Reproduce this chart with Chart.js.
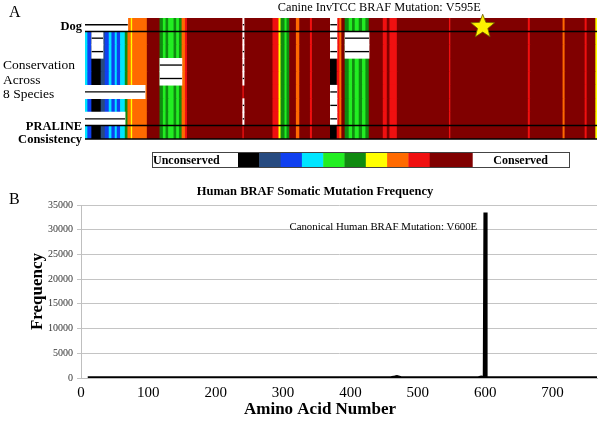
<!DOCTYPE html>
<html><head><meta charset="utf-8">
<script src="https://cdn.jsdelivr.net/npm/chart.js@4"></script>
<style>
html,body{margin:0;padding:0;background:#fff;width:603px;height:426px;overflow:hidden}
#a{position:absolute;left:0;top:0;width:603px;height:176px}
#b{position:absolute;left:0;top:176px;width:603px;height:250px}
</style></head><body>
<div id="a"><canvas id="ca"></canvas></div>
<div id="b"><canvas id="cb"></canvas></div>
<script>
const SERIF = '"Liberation Serif", "Times New Roman", Times, serif';

// ---------- Panel A data ----------
const alignmentRows = ['Dog','Species 2','Species 3','Species 4','Species 5','Species 6','Species 7','Species 8','PRALINE Consistency'];
const alignmentLength = 766;
// PRALINE conservation score colours, 0 (unconserved) .. 10 (conserved)
const scoreColors = ['#000000','#274b80','#1040f0','#00e5ff','#22ee22','#108a10','#ffff00','#ff6a00','#f01010','#800000','#800000'];
// column boundaries (alignment positions) and the score of each column block
const columnBounds = [0,4,10,24,30,36,40,45,48,53,60,64,69,71,93,112,117,121,125,133,137,141,145,150,153,236,238,281,290,293,299,302,306,316,321,337,340,367,377,381,384,389,395,400,404,410,415,420,425,446,452,456,467,545,547,663,666,715,718,748,751,764,766];
const columnScores = [3,2,0,1,2,3,2,3,2,3,5,7,6,7,9,5,4,5,4,5,4,5,7,8,9,8,9,8,6,5,4,5,9,7,9,8,9,0,8,7,9,5,4,5,4,5,4,5,9,8,9,8,9,8,9,8,9,7,9,8,9,6];
// alignment gaps: row, start, end
const gapRows  = ['Dog','Dog','Dog','Species 2','Species 2','Species 2','Species 2','Species 3','Species 3','Species 3','Species 3','Species 4','Species 4','Species 5','Species 5','Species 6','Species 6','Species 7','Species 7','Species 8','Species 8','Species 8'];
const gapStart = [0,236,367,10,236,367,389,10,236,367,389,112,236,112,236,0,367,236,367,0,236,367];
const gapEnd   = [64,238,377,27,238,377,425,27,238,377,425,145,238,145,238,90,377,238,377,60,238,377];
const canineMutationPos = 595;
const canineMutationLabel = 'Canine InvTCC BRAF Mutation: V595E';
const legendLabels = ['Unconserved','Conserved'];

// ---------- Panel B data ----------
const residuePositions = [10, 460, 464, 466, 469, 475, 590, 594, 597, 599, 600, 601, 605, 766];
const mutationCounts   = [2, 3, 120, 160, 260, 5, 10, 150, 60, 20, 33500, 110, 5, 1];
const freqMin = 0, freqMax = 35000, freqStep = 5000;
const aaMin = 0, aaMax = 766, aaStep = 100;
const humanMutationLabel = 'Canonical Human BRAF Mutation: V600E';
const humanMutationPos = 600;

// ---------- build panel A ----------
const colData = [];
alignmentRows.forEach(r => {
  for (let i = 0; i < columnScores.length; i++) {
    colData.push({x: [columnBounds[i], columnBounds[i+1]], y: r, s: columnScores[i]});
  }
});
const gapData = gapRows.map((r, i) => ({x: [gapStart[i], gapEnd[i]], y: r}));

function drawStar(ctx, cx, cy, R, r) {
  ctx.beginPath();
  for (let i = 0; i < 10; i++) {
    const rad = i % 2 === 0 ? R : r;
    const a = -Math.PI / 2 + i * Math.PI / 5;
    const px = cx + rad * Math.cos(a), py = cy + rad * Math.sin(a);
    if (i === 0) ctx.moveTo(px, py); else ctx.lineTo(px, py);
  }
  ctx.closePath();
}

const panelAPlugin = {
  id: 'panelA',
  afterDraw(chart) {
    const {ctx, chartArea: ca, scales: {x, y}} = chart;
    const half = (y.getPixelForValue(1) - y.getPixelForValue(0)) / 2;
    const rowMid = i => y.getPixelForValue(i);
    ctx.save();
    // row divider lines
    ctx.strokeStyle = '#000'; ctx.lineWidth = 1.4;
    [0, 7, 8].forEach(i => {
      const yy = rowMid(i) + half;
      ctx.beginPath(); ctx.moveTo(ca.left, yy); ctx.lineTo(ca.right, yy); ctx.stroke();
    });
    // row labels
    ctx.fillStyle = '#000'; ctx.textBaseline = 'middle';
    ctx.font = 'bold 12.5px ' + SERIF; ctx.textAlign = 'right';
    ctx.fillText('Dog', ca.left - 3, rowMid(0) + 2);
    ctx.fillText('PRALINE', ca.left - 3, rowMid(8) - 5.5);
    ctx.fillText('Consistency', ca.left - 3, rowMid(8) + 7.5);
    ctx.font = '13.5px ' + SERIF; ctx.textAlign = 'left';
    const c = rowMid(4) + 1.5;
    ctx.fillText('Conservation', 3, c - 14.5);
    ctx.fillText('Across', 3, c);
    ctx.fillText('8 Species', 3, c + 14.5);
    // panel letter
    ctx.font = '16px ' + SERIF;
    ctx.fillText('A', 9, 13);
    // star + title
    const sx = x.getPixelForValue(canineMutationPos), sy = rowMid(0) + 2;
    drawStar(ctx, sx, sy, 12.5, 5.4);
    ctx.fillStyle = '#fff200'; ctx.fill();
    ctx.strokeStyle = '#6b5a00'; ctx.lineWidth = 0.8; ctx.stroke();
    ctx.fillStyle = '#000'; ctx.font = '12.3px ' + SERIF; ctx.textAlign = 'right';
    ctx.fillText(canineMutationLabel, sx - 2, 8);
    // colour-scale legend
    const lx0 = 152, lx1 = 569, ly = 152, lh = 15, cx0 = 238, cw = 21.3;
    ctx.fillStyle = '#fff'; ctx.fillRect(lx0, ly, lx1 - lx0, lh);
    scoreColors.forEach((col, i) => { ctx.fillStyle = col; ctx.fillRect(cx0 + i * cw, ly, cw + 0.4, lh); });
    ctx.strokeStyle = '#444'; ctx.lineWidth = 1;
    ctx.strokeRect(lx0 + 0.5, ly + 0.5, lx1 - lx0, lh);
    ctx.fillStyle = '#000'; ctx.font = 'bold 12px ' + SERIF; ctx.textAlign = 'left';
    ctx.fillText(legendLabels[0], lx0 + 1, ly + lh / 2 + 1);
    ctx.textAlign = 'center';
    ctx.fillText(legendLabels[1], (cx0 + scoreColors.length * cw + lx1) / 2, ly + lh / 2 + 1);
    ctx.restore();
  }
};

new Chart(document.getElementById('ca'), {
  type: 'bar',
  data: {
    labels: alignmentRows,
    datasets: [
      {data: gapData, backgroundColor: '#000', barPercentage: 0.1, categoryPercentage: 1, grouped: false, inflateAmount: 0, order: 0},
      {data: gapData, backgroundColor: '#fff', barPercentage: 1, categoryPercentage: 1, grouped: false, order: 1},
      {data: colData, backgroundColor: ctx => scoreColors[ctx.raw ? ctx.raw.s : 9], barPercentage: 1, categoryPercentage: 1, grouped: false, order: 2}
    ]
  },
  options: {
    indexAxis: 'y', responsive: true, maintainAspectRatio: false, animation: false,
    layout: {padding: {left: 85, right: 6, top: 18, bottom: 37}},
    scales: {
      x: {type: 'linear', min: 0, max: alignmentLength, display: false},
      y: {type: 'category', display: false}
    },
    plugins: {legend: {display: false}, tooltip: {enabled: false}}
  },
  plugins: [panelAPlugin]
});

// ---------- panel B ----------
const panelBPlugin = {
  id: 'panelB',
  afterDraw(chart) {
    const {ctx, chartArea: ca, scales: {x, y}} = chart;
    ctx.save();
    ctx.fillStyle = '#000'; ctx.textBaseline = 'middle';
    ctx.font = 'bold 12.5px ' + SERIF; ctx.textAlign = 'center';
    ctx.fillText('Human BRAF Somatic Mutation Frequency', 315, 16);
    ctx.font = '16px ' + SERIF; ctx.textAlign = 'left';
    ctx.fillText('B', 9, 24);
    ctx.font = '10.8px ' + SERIF; ctx.textAlign = 'right';
    ctx.fillText(humanMutationLabel, x.getPixelForValue(humanMutationPos) - 8, y.getPixelForValue(30600));
    ctx.font = 'bold 17px ' + SERIF; ctx.textAlign = 'center';
    ctx.fillText('Amino Acid Number', 320, 234);
    ctx.restore();
  }
};

new Chart(document.getElementById('cb'), {
  type: 'line',
  data: {
    datasets: [{
      data: residuePositions.map((p, i) => ({x: p, y: mutationCounts[i]})),
      borderColor: '#000', borderWidth: 3.5, pointRadius: 0, tension: 0, fill: false
    }]
  },
  options: {
    responsive: true, maintainAspectRatio: false, animation: false,
    layout: {padding: {left: 0, right: 6, top: 29, bottom: 0}},
    scales: {
      x: {
        type: 'linear', min: aaMin, max: aaMax,
        ticks: {stepSize: aaStep, includeBounds: false, maxRotation: 0, color: '#000', padding: 6, font: {family: SERIF, size: 15}},
        grid: {display: false, drawTicks: false},
        border: {color: '#bfbfbf'},
        afterFit: s => { s.height = 48; }
      },
      y: {
        min: freqMin, max: freqMax,
        ticks: {stepSize: freqStep, color: '#333', padding: 4, font: {family: SERIF, size: 10}, callback: v => String(v)},
        grid: {color: '#c4c4c4', tickLength: 4},
        border: {color: '#bfbfbf'},
        title: {display: true, text: 'Frequency', color: '#000', font: {family: SERIF, size: 17, weight: 'bold'}, padding: {top: 27, bottom: 0}},
        afterFit: s => { s.width = 81; }
      }
    },
    plugins: {legend: {display: false}, tooltip: {enabled: false}}
  },
  plugins: [panelBPlugin]
});
</script>
</body></html>
